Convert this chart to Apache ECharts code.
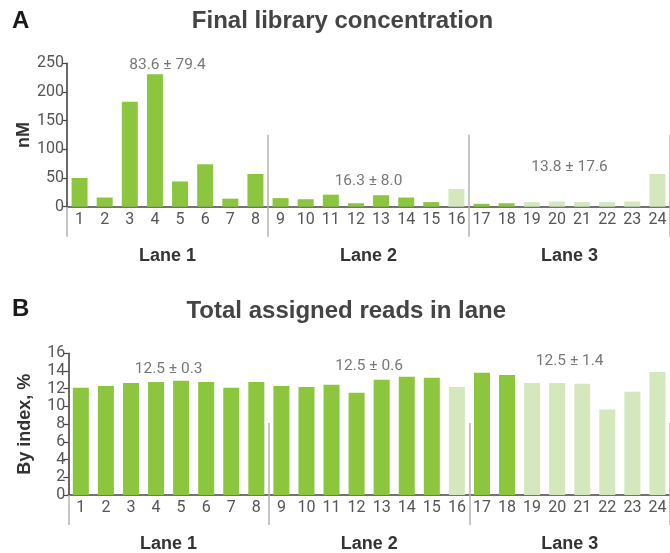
<!DOCTYPE html>
<html>
<head>
<meta charset="utf-8">
<script src="https://cdn.jsdelivr.net/npm/echarts@6/dist/echarts.min.js"></script>
<style>
  html, body { margin: 0; padding: 0; background: #fff; }
  #chart { width: 670px; height: 553px; }
</style>
</head>
<body>
<div id="chart"></div>
<script>
// Sample indices 1..24, grouped in three lanes of eight
const samples = ['1','2','3','4','5','6','7','8','9','10','11','12','13','14','15','16','17','18','19','20','21','22','23','24'];
const lanes = ['Lane 1', 'Lane 2', 'Lane 3'];

// Panel A: final library concentration (nM)
const concentration = [50, 16, 183, 231, 44, 74, 14, 57, 15, 13, 21, 6, 20, 16, 8, 31, 5, 6, 8, 9, 8, 8, 9, 57];
const concentrationStats = ['83.6 ± 79.4', '16.3 ± 8.0', '13.8 ± 17.6'];
const concentrationTicks = [0, 50, 100, 150, 200, 250];

// Panel B: share of assigned reads per index (%)
const readShare = [12.1, 12.3, 12.65, 12.75, 12.9, 12.75, 12.1, 12.75, 12.3, 12.2, 12.45, 11.55, 13.0, 13.35, 13.25, 12.2, 13.8, 13.55, 12.65, 12.65, 12.55, 9.65, 11.65, 13.9];
const readShareStats = ['12.5 ± 0.3', '12.5 ± 0.6', '12.5 ± 1.4'];
const readShareTicks = [0, 2, 4, 6, 8, 10, 12, 14, 16];

// Samples shown in the pale tone
const paleSamples = ['16', '19', '20', '21', '22', '23', '24'];

const DARK = '#8cc63f';
const PALE = '#d5e8bd';
const INK = '#555';
const SEP = '#b4b4b4';
const NUM_FONT = 'Roboto, "DejaVu Sans", sans-serif';
const BOLD_FONT = '"Liberation Sans", Arial, sans-serif';

function barData(values) {
  return values.map((v, i) => ({
    value: v,
    itemStyle: { color: paleSamples.includes(samples[i]) ? PALE : DARK }
  }));
}

// Three x axes per panel: sample axis, lane-separator axis, lane-name axis
function panelAxes(gridIndex) {
  return [
    {
      type: 'category', gridIndex, data: samples, position: 'bottom',
      axisLine: { show: true, lineStyle: { color: '#444', width: 1.6 } },
      axisTick: {
        show: true, alignWithLabel: false, length: 30,
        interval: (i) => i === 0 || i === 8 || i === 16,
        lineStyle: { color: SEP, width: 1.5 }
      },
      axisLabel: { color: INK, fontSize: 16, fontFamily: NUM_FONT, margin: 5, interval: 0 },
      splitLine: { show: false }
    },
    {
      type: 'category', gridIndex, data: samples, position: 'bottom',
      axisLine: { show: false },
      axisTick: {
        show: true, inside: true, alignWithLabel: false, length: 72,
        interval: (i) => i === 8 || i === 16,
        lineStyle: { color: SEP, width: 1.5 }
      },
      axisLabel: { show: false },
      splitLine: { show: false }
    },
    {
      type: 'category', gridIndex, data: lanes, position: 'bottom', offset: 30,
      axisLine: { show: false }, axisTick: { show: false },
      axisLabel: { color: '#333', fontSize: 18, fontWeight: 'bold', fontFamily: BOLD_FONT, margin: 10 },
      splitLine: { show: false }
    }
  ];
}

function valueAxis(gridIndex, ticks, name) {
  return {
    type: 'value', gridIndex,
    min: ticks[0], max: ticks[ticks.length - 1], interval: ticks[1] - ticks[0],
    name, nameLocation: 'middle', nameGap: 34, nameMoveOverlap: false,
    nameTextStyle: { color: '#333', fontSize: 18, fontWeight: 'bold', fontFamily: BOLD_FONT },
    axisLine: { show: true, lineStyle: { color: '#444', width: 1.6 } },
    axisTick: { show: true, length: 5, lineStyle: { color: '#444', width: 1.2 } },
    axisLabel: { color: INK, fontSize: 16, fontFamily: NUM_FONT, margin: 3 },
    splitLine: { show: false }
  };
}

// Lane summary text, placed at a fixed height above each lane
function statSeries(xAxisIndex, yAxisIndex, texts, heights) {
  return {
    type: 'scatter', xAxisIndex, yAxisIndex, symbolSize: 0, silent: true,
    data: texts.map((t, i) => ({ value: [i, heights[i]], name: t })),
    label: {
      show: true, position: 'inside', formatter: (p) => p.name,
      color: INK, fontSize: 15.5, fontFamily: NUM_FONT
    },
    z: 5
  };
}

const chart = echarts.init(document.getElementById('chart'), null, { renderer: 'canvas' });

chart.setOption({
  animation: false,
  backgroundColor: '#fff',
  grid: [
    { left: 67, top: 63.3, width: 609, height: 143.4 },
    { left: 68.3, top: 353.3, width: 607, height: 142.7 }
  ],
  xAxis: [...panelAxes(0), ...panelAxes(1)],
  yAxis: [
    valueAxis(0, concentrationTicks, 'nM'),
    valueAxis(1, readShareTicks, 'By index, %')
  ],
  series: [
    { type: 'bar', xAxisIndex: 0, yAxisIndex: 0, barWidth: 16, data: barData(concentration) },
    { type: 'bar', xAxisIndex: 3, yAxisIndex: 1, barWidth: 16, data: barData(readShare) },
    statSeries(2, 0, concentrationStats, [246.5, 44.8, 69.3]),
    statSeries(5, 1, readShareStats, [14.2, 14.5, 15.1])
  ],
  graphic: [
    { type: 'text', x: 12, y: 21, style: { text: 'A', font: 'bold 24px ' + BOLD_FONT, fill: '#1a1a1a', textVerticalAlign: 'middle' } },
    { type: 'text', x: 342.5, y: 21, style: { text: 'Final library concentration', font: 'bold 24px ' + BOLD_FONT, fill: '#444', textAlign: 'center', textVerticalAlign: 'middle' } },
    { type: 'text', x: 12, y: 309, style: { text: 'B', font: 'bold 24px ' + BOLD_FONT, fill: '#1a1a1a', textVerticalAlign: 'middle' } },
    { type: 'text', x: 346.3, y: 311, style: { text: 'Total assigned reads in lane', font: 'bold 24px ' + BOLD_FONT, fill: '#444', textAlign: 'center', textVerticalAlign: 'middle' } }
  ]
});
</script>
</body>
</html>
